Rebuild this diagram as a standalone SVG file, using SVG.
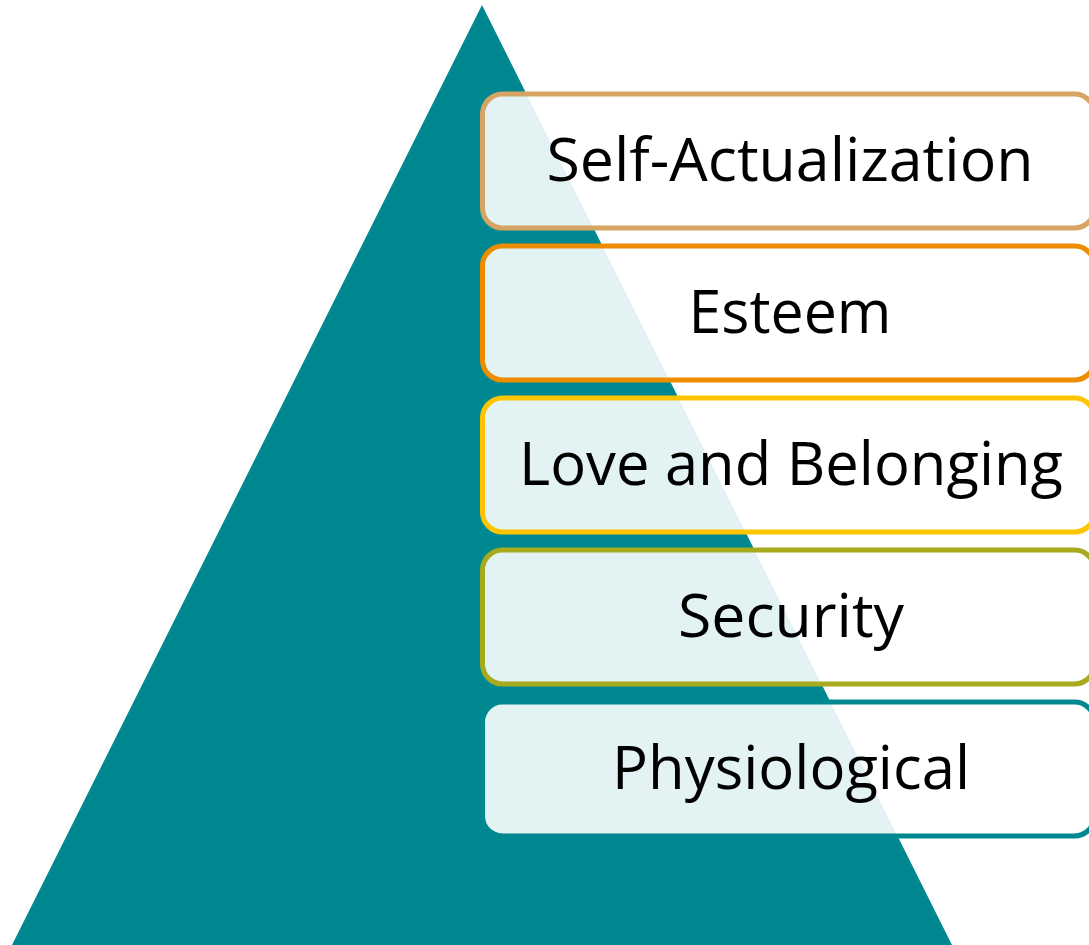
<svg xmlns="http://www.w3.org/2000/svg" width="1089" height="945" viewBox="0 0 1089 945">
<style>
.box{fill:#ffffff;fill-opacity:0.89;stroke-width:5}
.lbl{font-family:"Open Sans","Liberation Sans",sans-serif;font-size:61px;fill:#000000;text-anchor:middle}
</style>
<rect width="1089" height="945" fill="#ffffff"/>
<g id="pyramid"><polygon points="482,5 952,945 12,945" fill="#008890"/></g>
<g id="connectors"></g>
<g id="self-actualization">
<rect class="box" x="482.5" y="94" width="612" height="134" rx="20" stroke="#D6A463"/>
<text class="lbl" x="790" y="181" textLength="487" lengthAdjust="spacingAndGlyphs">Self-Actualization</text>
</g>
<g id="esteem">
<rect class="box" x="482.5" y="246" width="612" height="134" rx="20" stroke="#EE8C00"/>
<text class="lbl" x="790" y="333" textLength="203" lengthAdjust="spacingAndGlyphs">Esteem</text>
</g>
<g id="love">
<rect class="box" x="482.5" y="398" width="612" height="134" rx="20" stroke="#FFC400"/>
<text class="lbl" x="791" y="485" textLength="544" lengthAdjust="spacingAndGlyphs">Love and Belonging</text>
</g>
<g id="security">
<rect class="box" x="482.5" y="550" width="612" height="134" rx="20" stroke="#A8AA1E"/>
<text class="lbl" x="791" y="637" textLength="226" lengthAdjust="spacingAndGlyphs">Security</text>
</g>
<g id="physiological">
<rect class="box" x="482.5" y="702" width="612" height="134" rx="20" stroke="#008890"/>
<text class="lbl" x="791" y="789" textLength="358" lengthAdjust="spacingAndGlyphs">Physiological</text>
</g>
</svg>
